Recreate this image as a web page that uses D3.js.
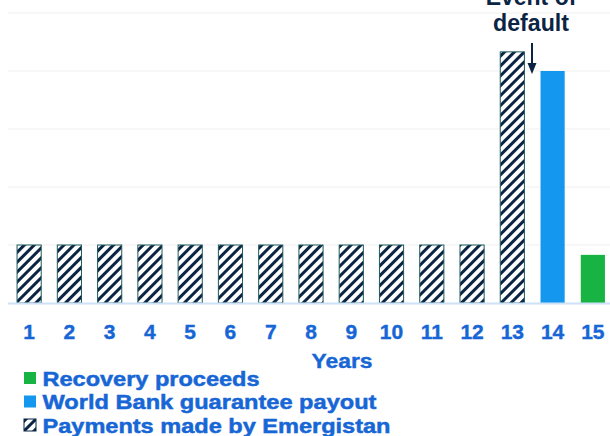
<!DOCTYPE html>
<html lang="en">
<head>
<meta charset="UTF-8">
<title>Guarantee payments</title>
<style>
  body { margin: 0; background: #fff; }
  text { font-family: "Liberation Sans", Arial, sans-serif; font-weight: bold; }
</style>
</head>
<body>
<script src="https://cdnjs.cloudflare.com/ajax/libs/d3/7.8.5/d3.min.js"></script>
<script>
  let years = ["1","2","3","4","5","6","7","8","9","10","11","12","13","14","15"]
  let emergistan = [1,1,1,1,1,1,1,1,1,1,1,1,4.33,0,0]
  let guarantee = [0,0,0,0,0,0,0,0,0,0,0,0,0,4,0]
  let recovery = [0,0,0,0,0,0,0,0,0,0,0,0,0,0,0.83]
  let gridTicks = [0,1,2,3,4,5]
  let legendLabels = ["Recovery proceeds", "World Bank guarantee payout", "Payments made by Emergistan"]
  let legendWidths = [217, 334, 348]

  let width = 610
  let height = 436
  let blue = "#1766d6"
  let navy = "#0b2444"

  let svg = d3.select("body").append("svg")
      .attr("width", width)
      .attr("height", height)

  let defs = svg.append("defs")
  let pat = defs.append("pattern")
      .attr("id", "hatch")
      .attr("patternUnits", "userSpaceOnUse")
      .attr("width", 7).attr("height", 7)
      .attr("patternTransform", "rotate(45)")
  pat.append("rect").attr("width", 7).attr("height", 7).attr("fill", "#fff")
  pat.append("rect").attr("x", 0).attr("width", 3).attr("height", 7).attr("fill", navy)

  let x = d3.scaleBand().domain(years).range([9, 613]).paddingInner(0.4).paddingOuter(0.2)
  let y = d3.scaleLinear().domain([0, 5]).range([303, 13])

  // gridlines
  svg.append("g").selectAll("line").data(gridTicks.slice(1)).join("line")
      .attr("x1", 8).attr("x2", width)
      .attr("y1", d => y(d)).attr("y2", d => y(d))
      .attr("stroke", "#efefef").attr("stroke-width", 1)

  let bars = svg.append("g")
  bars.selectAll(".em").data(years.filter((d, i) => emergistan[i] > 0)).join("rect")
      .attr("x", d => x(d)).attr("width", x.bandwidth())
      .attr("y", d => y(emergistan[years.indexOf(d)]))
      .attr("height", d => y(0) - y(emergistan[years.indexOf(d)]))
      .attr("fill", "url(#hatch)")
      .attr("stroke", "#1d5a5c").attr("stroke-width", 1)

  bars.selectAll(".wb").data(years.filter((d, i) => guarantee[i] > 0)).join("rect")
      .attr("x", d => x(d)).attr("width", x.bandwidth())
      .attr("y", d => y(guarantee[years.indexOf(d)]))
      .attr("height", d => y(0) - y(guarantee[years.indexOf(d)]))
      .attr("fill", "#1497ee")

  bars.selectAll(".rc").data(years.filter((d, i) => recovery[i] > 0)).join("rect")
      .attr("x", d => x(d)).attr("width", x.bandwidth())
      .attr("y", d => y(recovery[years.indexOf(d)]))
      .attr("height", d => y(0) - y(recovery[years.indexOf(d)]))
      .attr("fill", "#18b443")

  // baseline
  svg.append("line")
      .attr("x1", 8).attr("x2", width)
      .attr("y1", y(0) + 0.5).attr("y2", y(0) + 0.5)
      .attr("stroke", "#cde2f7").attr("stroke-width", 2)

  // x axis labels
  let xAxis = svg.append("g")
      .attr("transform", `translate(0,${y(0)})`)
      .call(d3.axisBottom(x).tickSize(0).tickPadding(21))
  xAxis.select(".domain").remove()
  xAxis.attr("font-size", null).attr("font-family", null)
  xAxis.selectAll("text")
      .attr("fill", blue).style("font-size", "21px")
      .attr("stroke", blue).attr("stroke-width", 0.4)

  svg.append("text")
      .attr("x", 342).attr("y", 368)
      .attr("text-anchor", "middle")
      .attr("fill", blue).style("font-size", "21px")
      .attr("stroke", blue).attr("stroke-width", 0.4)
      .attr("textLength", 61).attr("lengthAdjust", "spacingAndGlyphs")
      .text("Years")

  // annotation
  let ann = svg.append("g").attr("fill", navy)
  ann.append("text").attr("x", 531).attr("y", 5).attr("text-anchor", "middle")
      .style("font-size", "23px").text("Event of")
  ann.append("text").attr("x", 531).attr("y", 31).attr("text-anchor", "middle")
      .style("font-size", "23px")
      .attr("textLength", 76).attr("lengthAdjust", "spacingAndGlyphs")
      .text("default")
  ann.append("line").attr("x1", 532).attr("x2", 532).attr("y1", 43).attr("y2", 64)
      .attr("stroke", navy).attr("stroke-width", 2)
  ann.append("path").attr("d", "M527.5,63 L536.5,63 L532,74 Z")

  // legend
  let swatches = ["#18b443", "#1497ee", "url(#hatch)"]
  let leg = svg.append("g").selectAll("g").data(legendLabels).join("g")
      .attr("transform", (d, i) => `translate(24,${372 + i * 23.5})`)
  leg.append("rect")
      .attr("width", 12).attr("height", 12)
      .attr("fill", (d, i) => swatches[i])
      .attr("stroke", (d, i) => i == 2 ? navy : "none")
  leg.append("text")
      .attr("x", 18.5).attr("y", 13.5)
      .attr("fill", blue).style("font-size", "21px")
      .attr("stroke", blue).attr("stroke-width", 0.5)
      .attr("textLength", (d, i) => legendWidths[i]).attr("lengthAdjust", "spacingAndGlyphs")
      .text(d => d)
</script>
</body>
</html>
